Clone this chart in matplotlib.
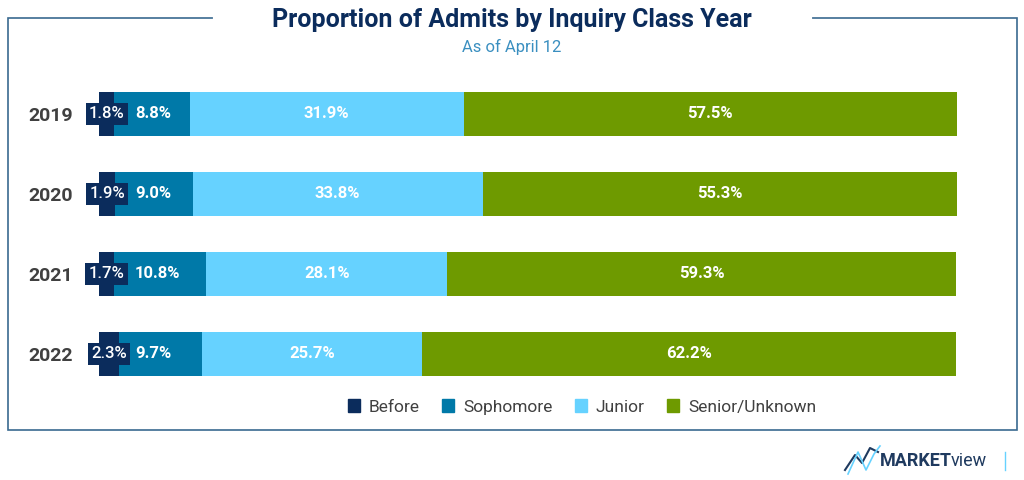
import matplotlib.pyplot as plt
from matplotlib.patches import Rectangle
from matplotlib.lines import Line2D
import numpy as np

plt.rcParams['font.family'] = ['Roboto', 'DejaVu Sans']

years = ['2019', '2020', '2021', '2022']
classes = ['Before', 'Sophomore', 'Junior', 'Senior/Unknown']
before = [1.8, 1.9, 1.7, 2.3]
sophomore = [8.8, 9.0, 10.8, 9.7]
junior = [31.9, 33.8, 28.1, 25.7]
senior = [57.5, 55.3, 59.3, 62.2]
colors = ['#0b2c5c', '#0079a8', '#66d2ff', '#6e9a00']

fig = plt.figure(figsize=(10.24, 4.8), dpi=100)
# outer frame
fig.add_artist(Rectangle((8/1024, 1-430/480), 1009/1024, 412/480, transform=fig.transFigure,
                         fill=False, edgecolor='#3a6a90', lw=1.2))
# title with gap in frame line
fig.add_artist(Line2D([215/1024, 810/1024], [1-18/480]*2, transform=fig.transFigure, color='white', lw=3))
fig.text(0.5, 1-20/480, 'Proportion of Admits by Inquiry Class Year', ha='center', va='center',
         fontsize=18, fontweight='bold', color='#0b2c5c')
fig.text(0.5, 1-47/480, 'As of April 12', ha='center', va='center', fontsize=12, color='#3a8fc0')

ax = fig.add_axes([99/1024, 1-394/480, 858/1024, 320/480])
series = [before, sophomore, junior, senior]
y = np.arange(len(years))
left = np.zeros(len(years))
for vals, c in zip(series, colors):
    ax.barh(y, vals, left=left, height=0.54, color=c)
    left += np.array(vals)

total = np.array(before) + sophomore + junior + senior
for i in range(len(years)):
    ax.text(before[i] / 2, i, f'{before[i]}%', ha='center', va='center', color='white',
            fontsize=12, fontweight='medium',
            bbox=dict(boxstyle='square,pad=0.2', fc=colors[0], ec='none'))
    x0 = before[i]
    ax.text(4.2, i, f'{sophomore[i]}%', ha='left', va='center', color='white', fontsize=12,
            fontweight='bold')
    x0 += sophomore[i]
    ax.text(x0 + junior[i] / 2, i, f'{junior[i]}%', ha='center', va='center', color='white',
            fontsize=12, fontweight='bold')
    x0 += junior[i]
    ax.text(x0 + senior[i] / 2, i, f'{senior[i]}%', ha='center', va='center', color='white',
            fontsize=12, fontweight='bold')

ax.set_xlim(0, total.max())
ax.set_ylim(3.5, -0.5)
ax.set_yticks(y, years)
ax.tick_params(axis='y', length=0, pad=19, labelsize=14, labelcolor='#404040')
for lab in ax.get_yticklabels():
    lab.set_fontweight('bold')
ax.set_xticks([])
for s in ax.spines.values():
    s.set_visible(False)

handles = [Rectangle((0, 0), 1, 1, color=c) for c in colors]
fig.legend(handles, classes, loc='center', bbox_to_anchor=(582/1024, 1-407/480), ncol=4, frameon=False,
           fontsize=12.5, handlelength=0.7, handleheight=0.7, columnspacing=1.3, handletextpad=0.5,
           labelcolor='#404040')

# logo
fig.text(880/1024, 1-461/480, 'MARKET', ha='left', va='center', fontsize=13, fontweight='bold',
         color='#1f3a5f')
fig.text(951/1024, 1-461/480, 'view', ha='left', va='center', fontsize=13, color='#1f3a5f')
fig.add_artist(Line2D(np.array([845, 855, 862, 870, 878]) / 1024, 1 - np.array([470, 455, 463, 448, 452]) / 480,
                      transform=fig.transFigure, color='#1f3a5f', lw=1.5))
fig.add_artist(Line2D(np.array([848, 858, 866, 874, 880]) / 1024, 1 - np.array([474, 452, 470, 454, 446]) / 480,
                      transform=fig.transFigure, color='#66d2ff', lw=1.2))
fig.add_artist(Line2D([1005/1024]*2, [1-452/480, 1-470/480], transform=fig.transFigure, color='#66d2ff', lw=1))

fig.savefig('out.png', dpi=100)
